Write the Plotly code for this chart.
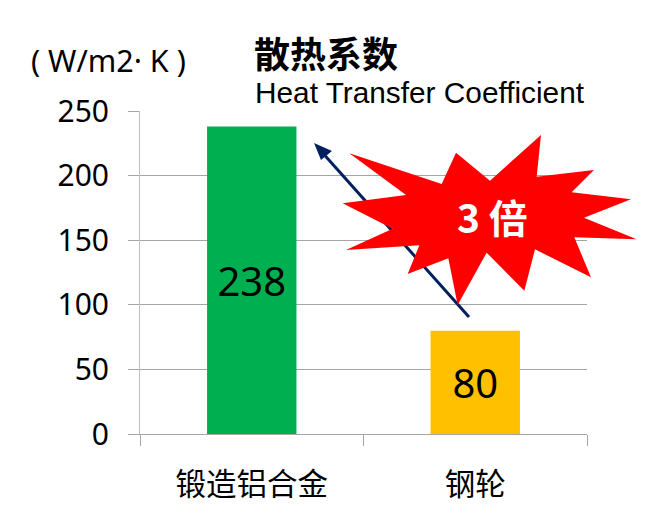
import plotly.graph_objects as go

categories = ["锻造铝合金", "钢轮"]
values = [238, 80]
bar_colors = ["#00B050", "#FFC000"]
y_ticks = [0, 50, 100, 150, 200, 250]

W, H = 645, 525
L, R, T, B = 140, 587, 111, 434
CJK = "Noto Sans CJK SC"
LATIN = "Noto Sans"

def px(x):
    return (x - L) / (R - L)

def py(y):
    return (B - y) / (B - T)

star_zoom = [(633,45),(620,170),(792,150),(725,217),(903,238),(762,293),(920,358),(733,352),
             (783,472),(615,388),(583,512),(470,398),(383,555),(355,415),(233,462),(268,376),
             (48,390),(188,326),(38,250),(228,225),(58,100),(335,192),(378,98),(480,182)]
star_px = [(330 + a / 3, 120 + b / 3) for a, b in star_zoom]
arrow_start = (469, 317)
arrow_tip = (314, 143)
arrow_head = [(314, 143), (332, 151), (321, 160)]

def path(points):
    return "M " + " L ".join(f"{px(x):.5f} {py(y):.5f}" for x, y in points) + " Z"

fig = go.Figure(go.Bar(
    x=categories, y=values, width=0.4,
    marker=dict(color=bar_colors, line=dict(width=0)),
    text=[str(v) for v in values], textposition="inside", insidetextanchor="middle",
    textangle=0, insidetextfont=dict(family=LATIN, size=40, color="#000000"),
    cliponaxis=False, hoverinfo="skip",
))

shapes = [
    dict(type="line", xref="paper", yref="paper", x0=px(arrow_start[0]), y0=py(arrow_start[1]),
         x1=px(arrow_tip[0] + 6), y1=py(arrow_tip[1] + 7), line=dict(color="#002060", width=3), layer="above"),
    dict(type="path", xref="paper", yref="paper", path=path(arrow_head),
         fillcolor="#002060", line=dict(width=0), layer="above"),
    dict(type="path", xref="paper", yref="paper", path=path(star_px),
         fillcolor="#FF0000", line=dict(width=0), layer="above"),
]

def note(x, y, text, size, color="#000000", family=CJK, anchor="left"):
    return dict(xref="paper", yref="paper", x=px(x), y=py(y), text=text, showarrow=False,
                xanchor=anchor, yanchor="middle", font=dict(family=family, size=size, color=color))

annotations = [
    note(29, 60, "( W/m2· K )", 30.5, family=LATIN),
    note(252, 52, "<b>散热系数</b>", 36),
    note(253, 92, "Heat Transfer Coefficient", 29.8, family="Liberation Sans"),
    note(455, 216, "<b>3 倍</b>", 39, color="#FFFFFF"),
]

fig.update_layout(
    width=W, height=H, autosize=False,
    margin=dict(l=L, r=W - R, t=T, b=H - B, pad=0),
    paper_bgcolor="#FFFFFF", plot_bgcolor="#FFFFFF",
    showlegend=False, shapes=shapes, annotations=annotations,
    xaxis=dict(type="category", tickson="boundaries", ticks="outside", ticklen=11, tickwidth=1,
               tickcolor="#A6A6A6", showgrid=False, showline=True, linecolor="#A6A6A6", linewidth=1,
               tickfont=dict(family=CJK, size=30.5, color="#000000"), ticklabelstandoff=23),
    yaxis=dict(range=[0, 250], tickvals=y_ticks, ticks="outside", ticklen=11, tickwidth=1,
               tickcolor="#A6A6A6", showgrid=True, gridcolor="#A6A6A6", gridwidth=1, zeroline=False,
               showline=True, linecolor="#BFBFBF", linewidth=1,
               tickfont=dict(family=LATIN, size=30, color="#000000"), ticklabelstandoff=13),
)

fig.write_html("out.html", post_script="document.body.style.margin='0';", config={"displayModeBar": False})
